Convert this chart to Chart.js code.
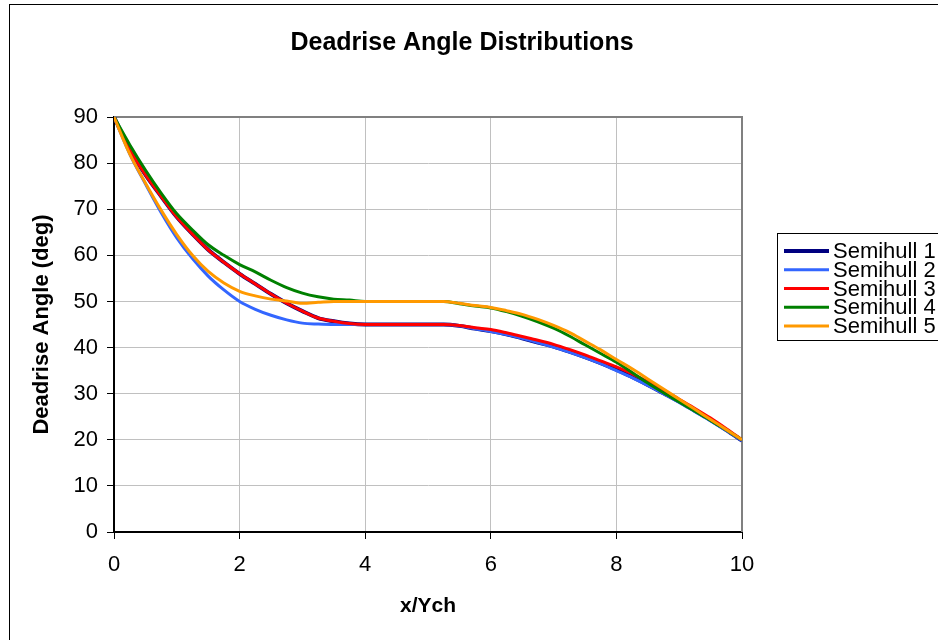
<!DOCTYPE html>
<html>
<head>
<meta charset="utf-8">
<script src="https://cdn.jsdelivr.net/npm/chart.js@4"></script>
<style>
	html, body { margin: 0; padding: 0; background: #fff; }
	canvas { display: block; }
</style>
</head>
<body>
<canvas id="chart" width="938" height="640"></canvas>
<script>
// Deadrise angle vs x/Ych, five semihulls

const FONT = '"Liberation Sans", Arial, sans-serif';

const xValues = [0, 0.25, 0.5, 0.75, 1, 1.25, 1.5, 1.75, 2, 2.25, 2.5, 2.75, 3, 3.25, 3.5, 3.75, 4, 4.25, 4.5, 4.75, 5, 5.25, 5.5, 5.75, 6, 6.25, 6.5, 6.75, 7, 7.25, 7.5, 7.75, 8, 8.25, 8.5, 8.75, 9, 9.25, 9.5, 9.75, 10];

const semihull1 = [90, 83, 77.5, 72.8, 68.3, 64.6, 61.2, 58.5, 56, 53.8, 51.6, 49.6, 47.9, 46.4, 45.7, 45.2, 45, 45, 45, 45, 45, 45, 44.7, 44.1, 43.6, 42.9, 42, 41.1, 40.2, 39.1, 37.9, 36.6, 35.2, 33.6, 31.9, 30.1, 28.3, 26.3, 24.3, 22.1, 19.8];
const semihull2 = [90, 82, 75.5, 69.3, 63.8, 59.3, 55.5, 52.5, 50, 48.3, 47, 46, 45.3, 45.1, 45, 45, 45, 45, 45, 45, 45, 45, 44.7, 44.1, 43.5, 42.8, 42, 41.1, 40.1, 39, 37.8, 36.5, 35, 33.5, 31.8, 30, 28.1, 26.1, 24.1, 22, 19.8];
const semihull3 = [90, 83, 77.5, 72.8, 68.3, 64.6, 61.2, 58.5, 56, 53.8, 51.6, 49.6, 47.9, 46.4, 45.7, 45.2, 45, 45, 45, 45, 45, 45, 44.8, 44.3, 43.9, 43.2, 42.4, 41.6, 40.7, 39.6, 38.4, 37.1, 35.8, 34.3, 32.6, 30.8, 28.8, 26.8, 24.7, 22.4, 20];
const semihull4 = [90, 84, 78.5, 73.5, 69, 65.5, 62.3, 60, 58, 56.4, 54.6, 53, 51.8, 51, 50.5, 50.3, 50, 50, 50, 50, 50, 50, 49.5, 49, 48.6, 47.8, 46.8, 45.6, 44.2, 42.5, 40.6, 38.7, 36.8, 34.6, 32.3, 30.2, 28.2, 26.2, 24.2, 22.1, 20];
const semihull5 = [90, 82, 75.7, 69.8, 64.5, 60, 56.5, 54, 52.2, 51.2, 50.5, 50.1, 49.6, 49.8, 50, 50, 50, 50, 50, 50, 50, 50, 49.6, 49.1, 48.7, 48, 47.2, 46.1, 44.8, 43.3, 41.4, 39.5, 37.4, 35.4, 33.2, 31, 28.8, 26.6, 24.4, 22.2, 20];

const seriesNames = ['Semihull 1', 'Semihull 2', 'Semihull 3', 'Semihull 4', 'Semihull 5'];
const seriesValues = [semihull1, semihull2, semihull3, semihull4, semihull5];
const seriesColors = ['#000080', '#3366ff', '#ff0000', '#008000', '#ff9900'];
const seriesWidths = [4, 3, 3, 3, 3];

const toPoints = values => values.map((y, i) => ({ x: xValues[i], y }));

// Excel draws series 1 first, series 5 last (on top)
const datasets = seriesNames.map((name, i) => ({
	label: name,
	data: toPoints(seriesValues[i]),
	borderColor: seriesColors[i],
	backgroundColor: seriesColors[i],
	borderWidth: seriesWidths[i],
	pointRadius: 0,
	cubicInterpolationMode: 'monotone',
	order: seriesNames.length - i
}));

// background, outer frame, plot frame, title and legend
const decor = {
	id: 'decor',
	beforeDraw(chart) {
		const { ctx } = chart;
		ctx.save();
		ctx.fillStyle = '#fff';
		ctx.fillRect(0, 0, chart.width, chart.height);
		ctx.restore();
	},
	beforeDatasetsDraw(chart) {
		const { ctx, chartArea: a } = chart;
		ctx.save();
		ctx.strokeStyle = '#808080';
		ctx.lineWidth = 2;
		ctx.beginPath();
		ctx.moveTo(a.left, a.top);
		ctx.lineTo(a.right, a.top);
		ctx.lineTo(a.right, a.bottom);
		ctx.stroke();
		ctx.restore();
	},
	afterDraw(chart) {
		const { ctx } = chart;
		ctx.save();
		// outer chart frame (runs off the right and bottom edges)
		ctx.strokeStyle = '#000';
		ctx.lineWidth = 1;
		ctx.strokeRect(9.5, 4.5, 1000, 1000);

		// title
		ctx.fillStyle = '#000';
		ctx.font = 'bold 25px ' + FONT;
		ctx.textAlign = 'center';
		ctx.textBaseline = 'middle';
		ctx.fillText('Deadrise Angle Distributions', 462, 43);

		// legend
		ctx.fillStyle = '#fff';
		ctx.fillRect(777.5, 233.5, 200, 107);
		ctx.strokeStyle = '#000';
		ctx.strokeRect(777.5, 233.5, 200, 107);
		ctx.font = '22px ' + FONT;
		ctx.textAlign = 'left';
		seriesNames.forEach((name, i) => {
			const y = 251 + i * 18.75;
			ctx.strokeStyle = seriesColors[i];
			ctx.lineWidth = seriesWidths[i];
			ctx.beginPath();
			ctx.moveTo(784, y);
			ctx.lineTo(829, y);
			ctx.stroke();
			ctx.fillStyle = '#000';
			ctx.fillText(name, 833, y + 1);
		});
		ctx.restore();
	}
};

new Chart(document.getElementById('chart'), {
	type: 'line',
	data: { datasets },
	plugins: [decor],
	options: {
		responsive: false,
		animation: false,
		devicePixelRatio: 1,
		layout: { padding: { left: 9, right: 196, top: 117, bottom: 0 } },
		plugins: {
			legend: { display: false },
			title: { display: false },
			tooltip: { enabled: false }
		},
		scales: {
			x: {
				type: 'linear',
				min: 0,
				max: 10,
				afterFit: scale => { scale.height = 108; },
				ticks: { stepSize: 2, color: '#000', padding: 13, maxRotation: 0, font: { family: FONT, size: 22 } },
				grid: { color: '#c0c0c0', tickColor: '#000', tickLength: 7 },
				border: { color: '#000', width: 2 },
				title: {
					display: true,
					text: 'x/Ych',
					color: '#000',
					font: { family: FONT, size: 21, weight: 'bold' },
					padding: { top: 0, bottom: 21 }
				}
			},
			y: {
				min: 0,
				max: 90,
				afterFit: scale => { scale.width = 105; },
				ticks: { stepSize: 10, color: '#000', padding: 9, font: { family: FONT, size: 22 } },
				grid: { color: '#c0c0c0', tickColor: '#000', tickLength: 7 },
				border: { color: '#000', width: 2 },
				title: {
					display: true,
					text: 'Deadrise Angle (deg)',
					color: '#000',
					font: { family: FONT, size: 22, weight: 'bold' },
					padding: { top: 20, bottom: 0 }
				}
			}
		}
	}
});
</script>
</body>
</html>
